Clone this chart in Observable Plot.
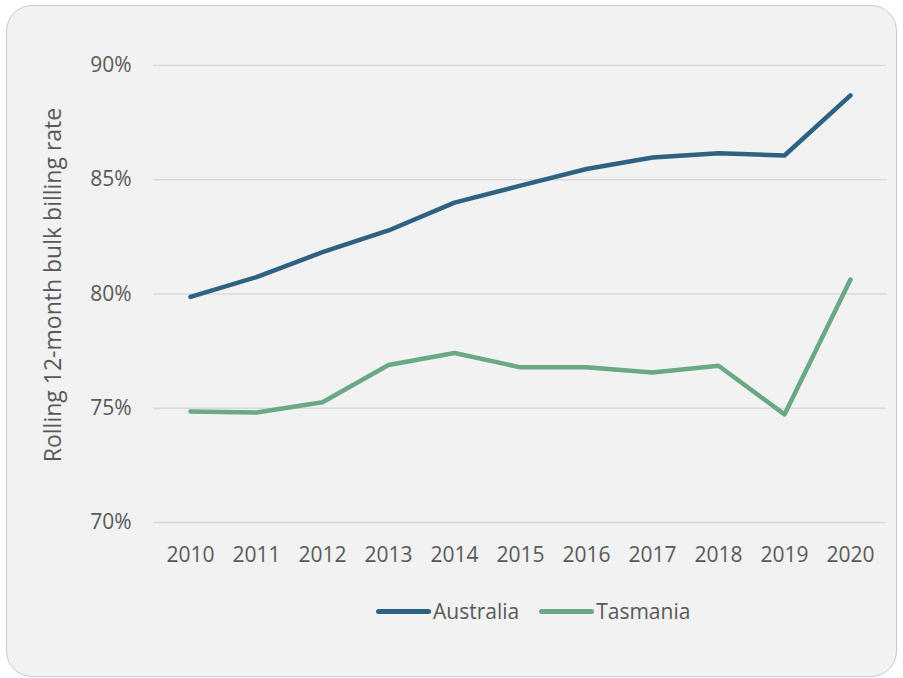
<!DOCTYPE html>
<html><head><meta charset="utf-8">
<script src="https://cdn.jsdelivr.net/npm/d3@7"></script>
<script src="https://cdn.jsdelivr.net/npm/@observablehq/plot@0.6"></script>
<style>
html,body{margin:0;padding:0;background:#fff;width:903px;height:678px;overflow:hidden;font-family:"Open Sans",Lato,sans-serif;}
#frame{position:absolute;left:6px;top:5px;width:891px;height:672px;box-sizing:border-box;border:1.5px solid #c9c9c9;border-radius:26px;background:#f2f2f2;}
#chart{position:absolute;left:0;top:0;}
#legend{position:absolute;top:597px;left:376px;display:flex;align-items:center;font-size:21px;color:#595959;white-space:nowrap;}
#legend .sw{display:inline-block;width:55px;height:5px;border-radius:3px;margin-right:2px;}
#legend .item{display:flex;align-items:center;margin-right:20px;}
</style>
</head>
<body>
<div id="frame"></div>
<div id="chart"></div>
<div id="legend"></div>
<script>
const years = ["2010","2011","2012","2013","2014","2015","2016","2017","2018","2019","2020"];
const australia = [79.87, 80.74, 81.83, 82.78, 84.0, 84.74, 85.47, 85.97, 86.16, 86.06, 88.69];
const tasmania = [74.86, 74.81, 75.26, 76.89, 77.42, 76.79, 76.79, 76.56, 76.86, 74.73, 80.63];
const seriesNames = ["Australia", "Tasmania"];
const seriesColors = ["#2f6282", "#6aa886"];
const yTicks = [70, 75, 80, 85, 90];
const yTitle = "Rolling 12-month bulk billing rate";

const data = [];
years.forEach((y, i) => {
  data.push({year: y, series: "Australia", value: australia[i]});
  data.push({year: y, series: "Tasmania", value: tasmania[i]});
});

const W = 903, H = 580;
const chart = Plot.plot({
  width: W,
  height: H,
  marginLeft: 153,
  marginRight: 17,
  marginTop: 65,
  marginBottom: 58,
  style: {background: "transparent", fontFamily: "'Open Sans', Lato, sans-serif", fontSize: "21px", color: "#595959"},
  x: {type: "point", domain: years, padding: 0.5, label: null},
  y: {domain: [70, 90], ticks: yTicks, label: null},
  color: {domain: seriesNames, range: seriesColors},
  marks: [
    Plot.ruleY(yTicks, {stroke: "#d9d9d9", strokeWidth: 1.5}),
    Plot.axisY({ticks: yTicks, tickSize: 0, tickPadding: 22, tickFormat: d => d + "%", label: null, fill: "#595959"}),
    Plot.axisX({tickSize: 0, tickPadding: 25, label: null, fill: "#595959"}),
    Plot.line(data, {x: "year", y: "value", z: "series", stroke: "series", strokeWidth: 4.5, strokeLinejoin: "round", strokeLinecap: "round"})
  ]
});
document.getElementById("chart").appendChild(chart);

d3.select(chart).append("text")
  .attr("transform", "translate(61,285) rotate(-90)")
  .attr("text-anchor", "middle")
  .attr("fill", "#595959")
  .style("font-size", "23px")
  .style("font-family", "'Open Sans', Lato, sans-serif")
  .text(yTitle);

const legend = d3.select("#legend");
seriesNames.forEach((n, i) => {
  const it = legend.append("div").attr("class", "item");
  it.append("span").attr("class", "sw").style("background", seriesColors[i]);
  it.append("span").text(n);
});
</script>
</body></html>
